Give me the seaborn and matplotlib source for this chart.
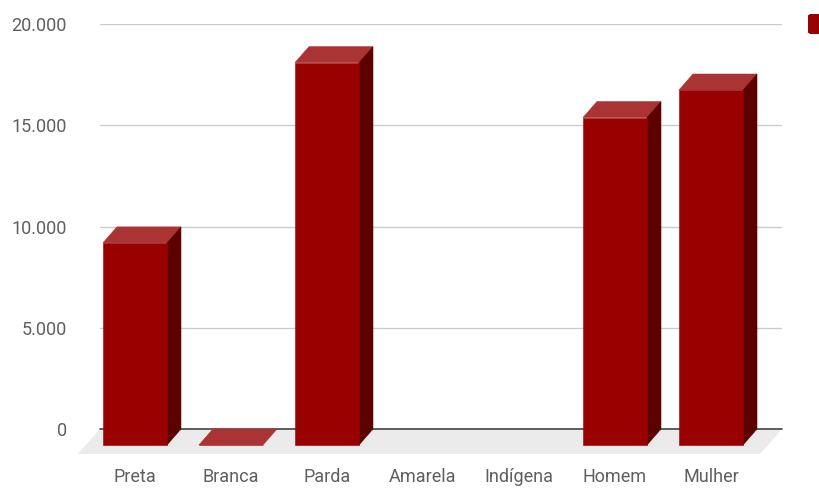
import numpy as np
import pandas as pd
import matplotlib
matplotlib.use("Agg")
import matplotlib.pyplot as plt
from matplotlib.patches import Polygon, FancyBboxPatch
from matplotlib.ticker import FuncFormatter
from matplotlib.transforms import offset_copy
import seaborn as sns

categories = ["Preta", "Branca", "Parda", "Amarela", "Indígena", "Homem", "Mulher"]
values = [9980, 0, 18880, np.nan, np.nan, 16170, 17530]
y_ticks = [0, 5000, 10000, 15000, 20000]

FRONT = "#990000"
TOP = "#aa3333"
SIDE = "#5c0000"
FLOOR = "#ebebeb"
TXT = "#5f5f5f"

sns.set_style("white")
plt.rcParams["font.family"] = ["Roboto", "DejaVu Sans"]

fig = plt.figure(figsize=(8.2, 4.88), dpi=100)
ax = fig.add_axes([100 / 820, (488 - 429) / 488, 682 / 820, 405 / 488])

df = pd.DataFrame({"cat": categories, "val": values})
sns.barplot(data=df, x="cat", y="val", order=categories, color=FRONT,
            saturation=1, width=0.667, ax=ax, zorder=3, errorbar=None)

ax.set_xlim(-0.51, 6.594)
ax.set_ylim(0, 20000)

DX, DY = 14, 16       # bar depth in pixels
FDX, FDY = 22, 25     # floor depth in pixels

def shifted(x, y, dx, dy):
    d = ax.transData.transform((x, y))
    return tuple(ax.transData.inverted().transform((d[0] - dx, d[1] - dy)))

front_tr = offset_copy(ax.transData, fig=fig, x=-DX, y=-DY, units="dots")

for p in ax.patches:
    h = p.get_height()
    if np.isnan(h):
        continue
    x0 = p.get_x()
    x1 = x0 + p.get_width()
    p.set_transform(front_tr)
    p.set_clip_on(False)
    p.set_edgecolor(FRONT)
    p.set_linewidth(0.4)
    p.set_zorder(4)
    # top face
    top = [shifted(x0, h, DX, DY), shifted(x1, h, DX, DY), (x1, h), (x0, h)]
    ax.add_patch(Polygon(top, closed=True, facecolor=TOP, edgecolor=TOP, lw=0.4,
                         zorder=3, clip_on=False))
    # side face
    if h > 0:
        side = [shifted(x1, 0, DX, DY), shifted(x1, h, DX, DY), (x1, h), (x1, 0)]
        ax.add_patch(Polygon(side, closed=True, facecolor=SIDE, edgecolor=SIDE, lw=0.4,
                             zorder=3, clip_on=False))

# floor
xl, xr = ax.get_xlim()
floor = [shifted(xl, 0, FDX, FDY), shifted(xr, 0, FDX, FDY), (xr, 0), (xl, 0)]
ax.add_patch(Polygon(floor, closed=True, facecolor=FLOOR, edgecolor="none",
                     zorder=1, clip_on=False))
ax.axhline(0, color="#444444", lw=1.2, zorder=2, clip_on=False)

# grid
ax.set_yticks(y_ticks)
ax.yaxis.set_major_formatter(FuncFormatter(lambda v, _: f"{v:,.0f}".replace(",", ".")))
ax.grid(axis="y", color="#cccccc", lw=1, zorder=0)
ax.grid(axis="x", visible=False)
ax.set_axisbelow(True)

# x ticks at front-face centres
unit = ax.transData.transform((1, 0))[0] - ax.transData.transform((0, 0))[0]
ax.set_xticks(np.arange(len(categories)) - DX / unit)
ax.set_xticklabels(categories)

ax.tick_params(axis="both", length=0, labelsize=13, labelcolor=TXT)
ax.tick_params(axis="y", pad=24)
ax.tick_params(axis="x", pad=28)
ax.set_xlabel("")
ax.set_ylabel("")
for s in ax.spines.values():
    s.set_visible(False)

# legend swatch (label falls outside the image)
fig.patches.append(FancyBboxPatch((808 / 820, (488 - 34) / 488), 0.03, 20 / 488,
                                  boxstyle="round,pad=0,rounding_size=0.004",
                                  transform=fig.transFigure, facecolor=FRONT,
                                  edgecolor="none", figure=fig))

fig.savefig("out.png", dpi=100)
